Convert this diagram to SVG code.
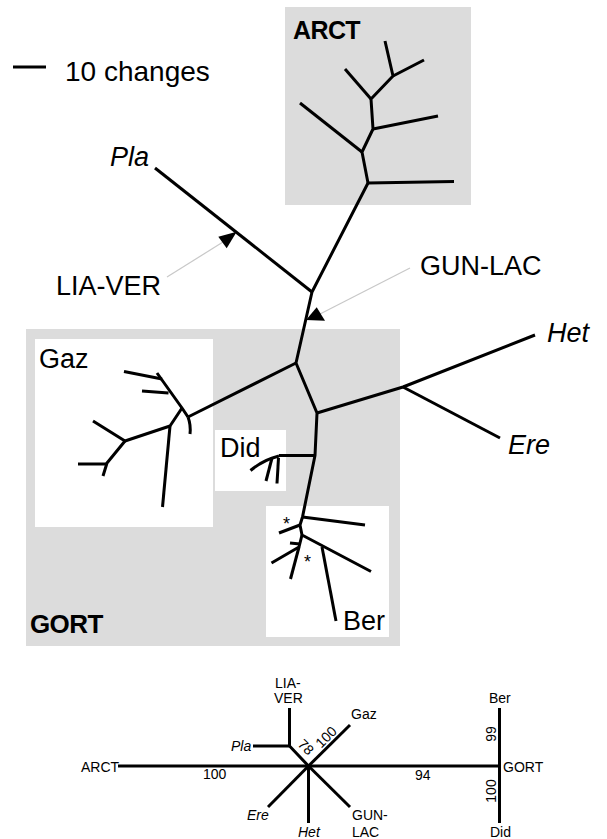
<svg xmlns="http://www.w3.org/2000/svg" width="607" height="839" viewBox="0 0 607 839">
<style>
.br{fill:none;stroke:#000;stroke-width:3;stroke-linejoin:round}
.bb{fill:none;stroke:#000;stroke-width:3}
.lbl{font-family:"Liberation Sans",Arial,sans-serif;font-size:27px;fill:#000}
.it{font-style:italic}
.bold{font-weight:bold;font-size:25px;letter-spacing:-0.6px}
.sm{font-family:"Liberation Sans",Arial,sans-serif;font-size:14px;fill:#000}
.gbox{fill:#dcdcdc}
.wbox{fill:#fff}
.ptr{stroke:#c8c8c8;stroke-width:1.2;fill:none}
</style>
<rect width="607" height="839" fill="#fff"/>

<g id="scale">
<line x1="13" y1="67" x2="46" y2="67" stroke="#000" stroke-width="3"/>
<text class="lbl" x="65" y="81" style="font-size:28px">10 changes</text>
</g>

<g id="ARCT">
<rect class="gbox" x="285" y="7" width="186" height="198"/>
<text class="lbl bold" x="293" y="39">ARCT</text>
<polyline class="br" points="368,183 362,152 373,129 371,99 393,76 385,41"/>
<line class="br" x1="368" y1="183" x2="454" y2="181.5"/>
<line class="br" x1="362" y1="152" x2="300" y2="103"/>
<line class="br" x1="373" y1="129" x2="438" y2="116"/>
<line class="br" x1="371" y1="99" x2="345" y2="69"/>
<line class="br" x1="393" y1="76" x2="424" y2="60"/>
</g>

<g id="GORT">
<rect class="gbox" x="26" y="329" width="374" height="317"/>
<text class="lbl bold" x="30" y="633" style="font-size:26px">GORT</text>
</g>

<g id="Gaz">
<rect class="wbox" x="35" y="339" width="178" height="188"/>
<text class="lbl" x="39" y="368">Gaz</text>
<path class="br" d="M188,417 Q191,425 190,434"/>
<polyline class="br" points="188,417 182,408 157,373"/>
<line class="br" x1="124" y1="371.5" x2="162" y2="379"/>
<line class="br" x1="142" y1="391" x2="168.5" y2="393"/>
<polyline class="br" points="182,408 170,426 125,441 93,421"/>
<polyline class="br" points="125,441 107,463 103,476"/>
<line class="br" x1="78" y1="464" x2="107" y2="464"/>
<line class="br" x1="170" y1="426" x2="162.5" y2="507"/>
</g>

<g id="Did">
<rect class="wbox" x="215" y="430" width="71" height="61"/>
<text class="lbl" x="220" y="457">Did</text>
<polyline class="br" points="315,455.5 279,455.5"/>
<path class="br" d="M279,456 Q263,460 250.5,470.5"/>
<line class="br" x1="272" y1="458" x2="266" y2="481"/>
<line class="br" x1="278.5" y1="458" x2="277" y2="483.5"/>
</g>

<g id="Ber">
<rect class="wbox" x="266" y="506" width="123" height="131"/>
<text class="lbl" x="343" y="630">Ber</text>
<text class="sm" x="283" y="530" style="font-size:18px">*</text>
<text class="sm" x="304" y="568" style="font-size:18px">*</text>
<line class="br" x1="302.5" y1="517" x2="365" y2="525"/>
<polyline class="br" points="302.5,517 300,525 302,535 371,571.5"/>
<line class="br" x1="300" y1="525" x2="279" y2="533"/>
<line class="br" x1="322" y1="547" x2="336" y2="621"/>
<line class="br" x1="290" y1="543" x2="300" y2="544"/>
<polyline class="br" points="302,535 299,547 271.5,563"/>
<line class="br" x1="299" y1="547" x2="290.5" y2="579"/>
</g>

<g id="Pla"><text class="lbl it" x="110" y="166">Pla</text></g>
<g id="Het"><text class="lbl it" x="547" y="342">Het</text></g>
<g id="Ere"><text class="lbl it" x="508" y="454">Ere</text></g>
<g id="LIA-VER"><text class="lbl" x="56" y="295">LIA-VER</text></g>
<g id="GUN-LAC"><text class="lbl" x="420" y="275">GUN-LAC</text></g>

<g id="connectors">
<polyline class="br" points="368,183 312,292 296,363 317,413 315,455.5 302.5,517"/>
<line class="br" x1="312" y1="292" x2="155" y2="168"/>
<line class="br" x1="296" y1="363" x2="188" y2="417"/>
<polyline class="br" points="317,413 403,387 535,335"/>
<line class="br" x1="403" y1="387" x2="500" y2="438"/>
<line class="ptr" x1="167" y1="277" x2="223" y2="242"/>
<polygon points="236.7,231.7 218.3,236.7 226.7,248.3" fill="#000"/>
<line class="ptr" x1="410" y1="268" x2="320" y2="314"/>
<polygon points="306,320 316.7,307.3 325,320.7" fill="#000"/>
</g>

<g id="consensus">
<g class="bb">
<line x1="118" y1="766" x2="499" y2="766"/>
<polyline points="308.5,766 289.5,746 289.5,708"/>
<line x1="289.5" y1="746" x2="253" y2="746"/>
<line x1="308.5" y1="766" x2="268" y2="807"/>
<line x1="308.5" y1="766" x2="308.5" y2="823"/>
<line x1="308.5" y1="766" x2="350" y2="725"/>
<line x1="308.5" y1="766" x2="350" y2="807"/>
<line x1="499.5" y1="708" x2="499.5" y2="823"/>
</g>
<text class="sm" x="81" y="772">ARCT</text>
<text class="sm it" x="231" y="751">Pla</text>
<text class="sm" x="275" y="688">LIA-</text>
<text class="sm" x="274" y="703">VER</text>
<text class="sm" x="351" y="719">Gaz</text>
<text class="sm it" x="247" y="820">Ere</text>
<text class="sm it" x="298" y="837">Het</text>
<text class="sm" x="352" y="820">GUN-</text>
<text class="sm" x="352" y="837">LAC</text>
<text class="sm" x="489" y="703">Ber</text>
<text class="sm" x="503" y="772">GORT</text>
<text class="sm" x="490" y="837">Did</text>
<text class="sm" x="203" y="779">100</text>
<text class="sm" x="415" y="780">94</text>
<text class="sm" transform="translate(306,747) rotate(45)" text-anchor="middle" dominant-baseline="central">78</text>
<text class="sm" transform="translate(326,737) rotate(-45)" text-anchor="middle" dominant-baseline="central">100</text>
<text class="sm" transform="translate(491,734) rotate(-90)" text-anchor="middle" dominant-baseline="central">99</text>
<text class="sm" transform="translate(490.5,791) rotate(-90)" text-anchor="middle" dominant-baseline="central">100</text>
</g>
</svg>
